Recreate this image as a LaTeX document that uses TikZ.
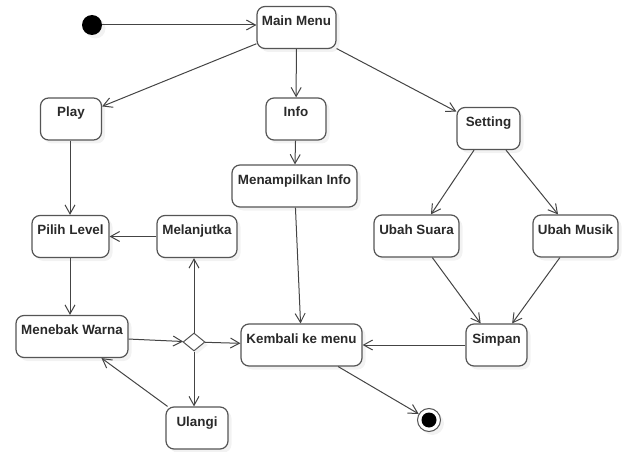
\documentclass[tikz,border=0pt]{standalone}
\usepackage{fontspec}
\setmainfont{Liberation Sans}
\usetikzlibrary{positioning,shapes.geometric,arrows.meta,shadows}
\definecolor{cLine}{HTML}{444444}
\definecolor{cBox}{HTML}{555555}
\definecolor{cInk}{HTML}{2A2A2A}
\tikzset{
  st/.style={rectangle,rounded corners=8pt,draw=cBox,line width=1.2pt,fill=white,text=cInk,
    font=\fontsize{13.4}{16}\selectfont\bfseries,text height=19pt,text depth=23pt,
    inner ysep=0pt,inner xsep=0pt,
    drop shadow={shadow xshift=3.5pt,shadow yshift=-3.5pt,opacity=0.1}},
  dec/.style={diamond,draw=cBox,line width=1pt,fill=white,minimum width=22pt,minimum height=18pt,inner sep=0pt,
    drop shadow={shadow xshift=3pt,shadow yshift=-3pt,opacity=0.1}},
  ini/.style={circle,fill=black,minimum size=20pt,inner sep=0pt,
    drop shadow={shadow xshift=3.5pt,shadow yshift=-3.5pt,opacity=0.1}},
  fin/.style={circle,draw=cBox,line width=1pt,fill=white,minimum size=23pt,inner sep=0pt,
    drop shadow={shadow xshift=3.5pt,shadow yshift=-3.5pt,opacity=0.1},
    path picture={\fill[black] (path picture bounding box.center) circle (7.5pt);}},
  tr/.style={-{Straight Barb[length=9pt,width=10pt]},line width=1pt,cLine},
}

\begin{document}
\begin{tikzpicture}[x=1pt,y=-1pt]
  \useasboundingbox (0,0) rectangle (622,452);
  \node[ini] (start) at (92,25) {};
  \node[st,minimum width=79pt] (main) at (296.5,27.5) {Main Menu};
  \node[st,minimum width=61pt] (play) at (71,119) {Play};
  \node[st,minimum width=60pt] (info) at (296,119) {Info};
  \node[st,minimum width=63pt] (setting) at (488.5,128.5) {Setting};
  \node[st,minimum width=125pt] (tampil) at (294.5,186) {Menampilkan Info};
  \node[st,minimum width=77pt] (pilih) at (70.5,236.5) {Pilih Level};
  \node[st,minimum width=80pt] (lanjut) at (197,236.5) {Melanjutka};
  \node[st,minimum width=85pt] (suara) at (416.5,236) {Ubah Suara};
  \node[st,minimum width=85pt] (musik) at (575.5,236) {Ubah Musik};
  \node[st,minimum width=112pt] (tebak) at (72,336.5) {Menebak Warna};
  \node[dec] (cek) at (194,342) {};
  \node[st,minimum width=121pt] (kembali) at (301.5,345) {Kembali ke menu};
  \node[st,minimum width=61pt] (simpan) at (496.5,345) {Simpan};
  \node[st,minimum width=62pt] (ulangi) at (197,428) {Ulangi};
  \node[fin] (end) at (429,420) {};
  % transitions
  \draw[tr] (start) -- (start -| main.west);
  \foreach \a/\b in {main/play,main/info,main/setting,info/tampil,setting/suara,setting/musik,
      suara/simpan,musik/simpan,simpan/kembali,tampil/kembali,kembali/end,
      lanjut/pilih,tebak/cek,cek/kembali,ulangi/tebak}
     \draw[tr] (\a) -- (\b);
  \draw[tr] (play.south -| 70,0) -- (pilih.north -| 70,0);
  \draw[tr] (pilih.south -| 70,0) -- (tebak.north -| 70,0);
  \draw[tr] (cek.north) -- (cek.north |- lanjut.south);
  \draw[tr] (cek.south) -- (cek.south |- ulangi.north);
\end{tikzpicture}
\end{document}
